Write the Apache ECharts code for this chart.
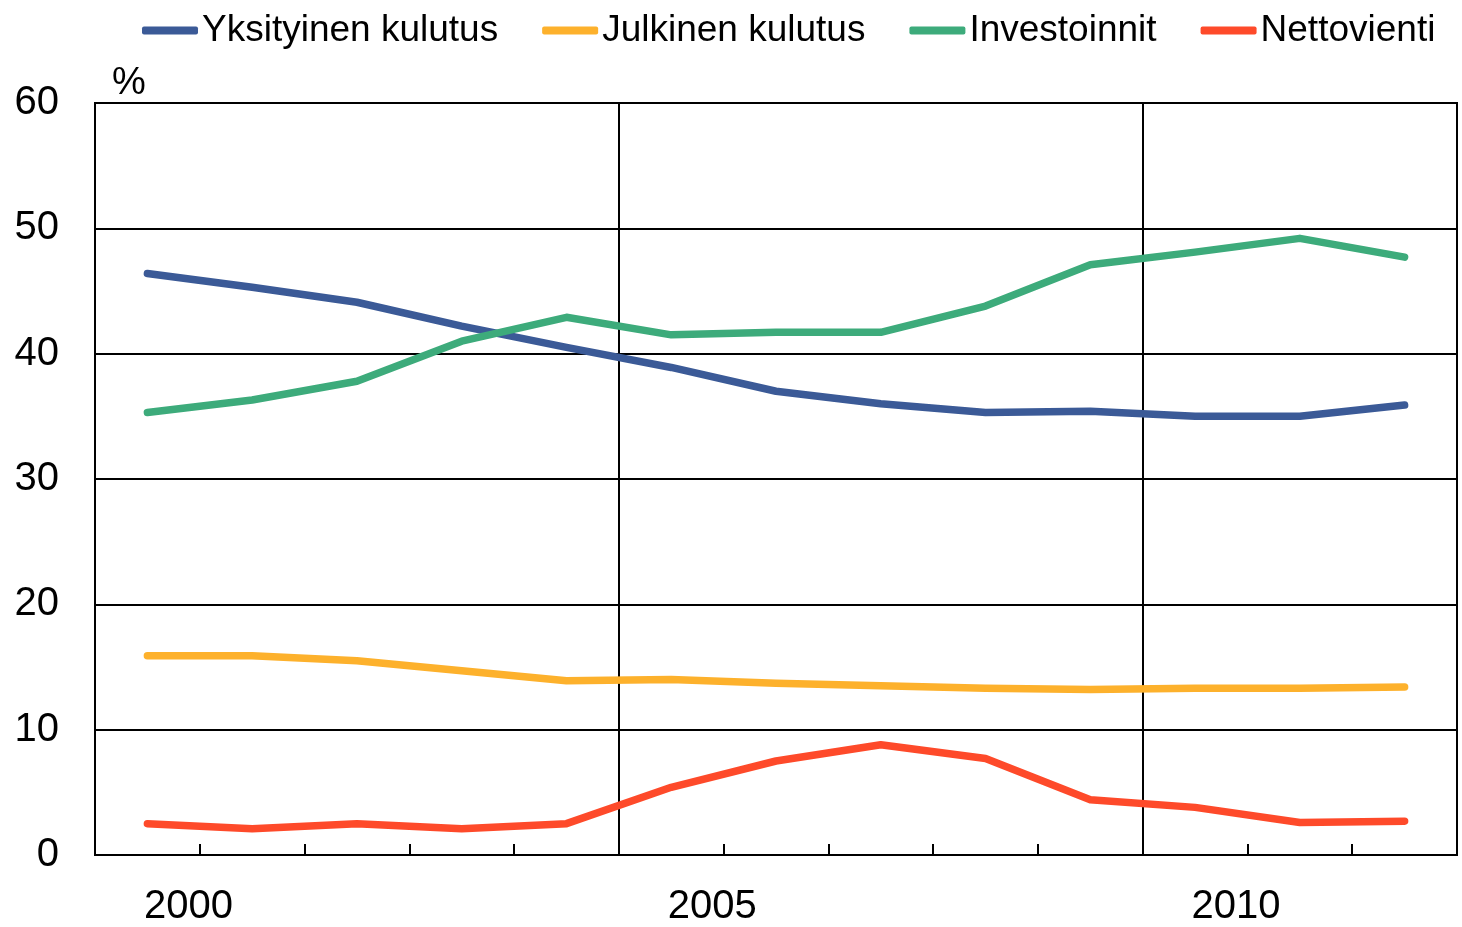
<!DOCTYPE html>
<html>
<head>
<meta charset="utf-8">
<script src="https://cdn.jsdelivr.net/npm/echarts@6/dist/echarts.min.js"></script>
<style>html,body{margin:0;padding:0;background:#fff;}#c{width:1462px;height:927px;}</style>
</head>
<body>
<div id="c"></div>
<script>
const years = ['2000','2001','2002','2003','2004','2005','2006','2007','2008','2009','2010','2011','2012'];
const yksityinen = [46.4, 45.3, 44.1, 42.2, 40.5, 38.9, 37.0, 36.0, 35.3, 35.4, 35.0, 35.0, 35.9];
const julkinen   = [15.9, 15.9, 15.5, 14.7, 13.9, 14.0, 13.7, 13.5, 13.3, 13.2, 13.3, 13.3, 13.4];
const investoinnit = [35.3, 36.3, 37.8, 41.0, 42.9, 41.5, 41.7, 41.7, 43.8, 47.1, 48.1, 49.2, 47.7];
const nettovienti = [2.5, 2.1, 2.5, 2.1, 2.5, 5.4, 7.5, 8.8, 7.7, 4.4, 3.8, 2.6, 2.7];
const yTicks = { min: 0, max: 60, interval: 10 };

const font = 'Liberation Sans, Arial, sans-serif';
const chart = echarts.init(document.getElementById('c'));
function line(name, data, color) {
  return {
    name, type: 'line', data, symbol: 'none', smooth: false,
    lineStyle: { color, width: 7.5, cap: 'round', join: 'round' },
    itemStyle: { color },
    z: 3
  };
}
chart.setOption({
  animation: false,
  backgroundColor: '#fff',
  textStyle: { fontFamily: font },
  title: {
    text: '%', left: 107, top: 60,
    textStyle: { fontSize: 38, fontWeight: 'normal', color: '#000', fontFamily: font }
  },
  legend: {
    left: 137, top: 7, width: 1320, itemWidth: 56, itemHeight: 8, itemGap: 44,
    icon: 'roundRect',
    textStyle: { fontSize: 37, color: '#000', fontFamily: font, padding: [0, 0, 0, -1] },
    data: ['Yksityinen kulutus', 'Julkinen kulutus', 'Investoinnit', 'Nettovienti']
  },
  grid: {
    left: 95, right: 5, top: 103, bottom: 71,
    show: true, borderColor: '#000', borderWidth: 2, containLabel: false
  },
  xAxis: {
    type: 'category', data: years, boundaryGap: true,
    axisLine: { show: true, lineStyle: { color: '#000', width: 2 } },
    axisTick: { show: true, inside: true, length: 11, interval: 0, lineStyle: { color: '#000', width: 2 } },
    axisLabel: {
      interval: 4, fontSize: 40, color: '#000', margin: 32, fontFamily: font,
      padding: [0, 0, 0, 82]
    },
    splitLine: {
      show: true,
      interval: function (idx) { return idx === 5 || idx === 10; },
      lineStyle: { color: '#000', width: 2 }
    }
  },
  yAxis: {
    type: 'value', min: yTicks.min, max: yTicks.max, interval: yTicks.interval,
    axisLine: { show: true, lineStyle: { color: '#000', width: 2 } },
    axisTick: { show: false },
    axisLabel: { fontSize: 40, color: '#000', margin: 36, fontFamily: font },
    splitLine: { show: true, lineStyle: { color: '#000', width: 2 } }
  },
  series: [
    line('Yksityinen kulutus', yksityinen, '#3B5A97'),
    line('Julkinen kulutus', julkinen, '#FDB12C'),
    line('Investoinnit', investoinnit, '#3DAB7B'),
    line('Nettovienti', nettovienti, '#FE4A2A')
  ]
});
</script>
</body>
</html>
